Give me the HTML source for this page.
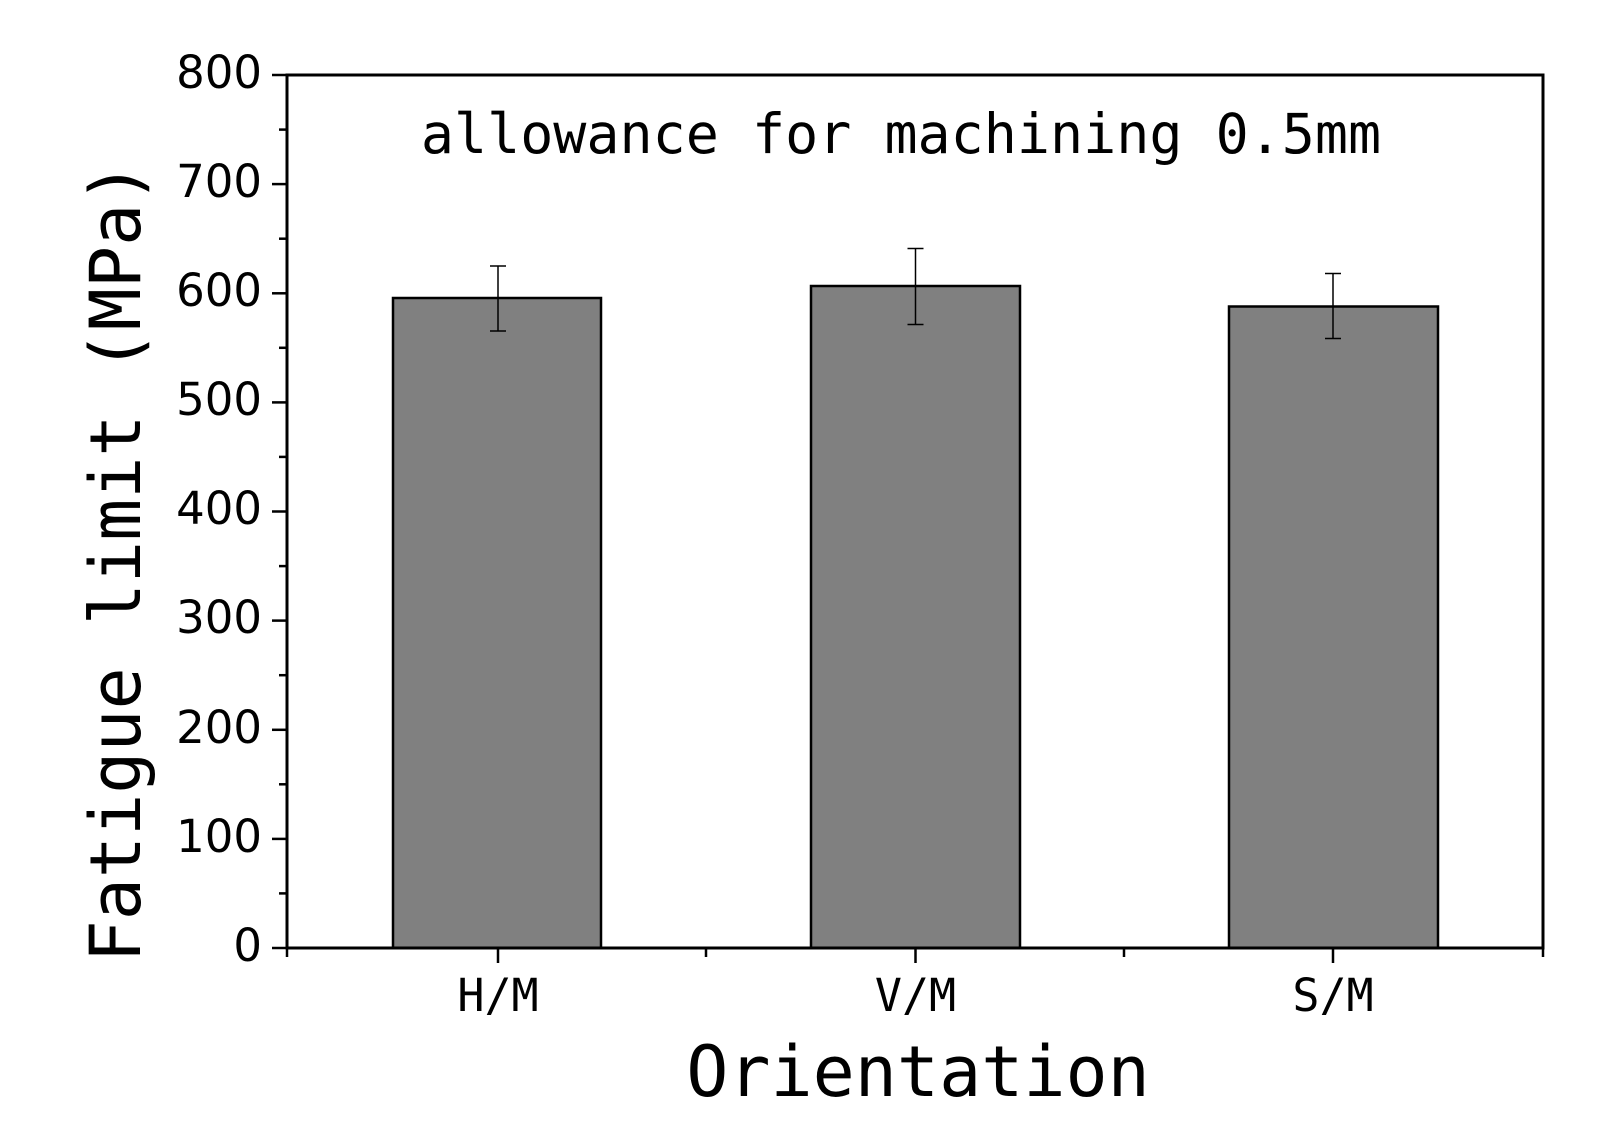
<!DOCTYPE html>
<html><head><meta charset="utf-8"><style>body{margin:0;background:#fff}</style></head><body>
<svg width="1605" height="1135" xmlns="http://www.w3.org/2000/svg">
<g fill="#808080" stroke="#000" stroke-width="2.5">
<rect x="393" y="298" width="208" height="650"/>
<rect x="811" y="286" width="209" height="662"/>
<rect x="1229" y="306.5" width="209" height="641.5"/>
</g>
<g stroke="#000" stroke-width="1.5">
<line x1="498" y1="266" x2="498" y2="331"/><line x1="490" y1="266" x2="506" y2="266"/><line x1="490" y1="331" x2="506" y2="331"/>
<line x1="915.5" y1="248.5" x2="915.5" y2="324.5"/><line x1="907.5" y1="248.5" x2="923.5" y2="248.5"/><line x1="907.5" y1="324.5" x2="923.5" y2="324.5"/>
<line x1="1333" y1="273.5" x2="1333" y2="338.5"/><line x1="1325" y1="273.5" x2="1341" y2="273.5"/><line x1="1325" y1="338.5" x2="1341" y2="338.5"/>
</g>
<rect x="287" y="75" width="1256" height="873" fill="none" stroke="#000" stroke-width="3"/>
<g stroke="#000" stroke-width="2.5">
<line x1="272" y1="75" x2="287" y2="75"/><line x1="279" y1="129.6" x2="287" y2="129.6"/>
<line x1="272" y1="184.1" x2="287" y2="184.1"/><line x1="279" y1="238.7" x2="287" y2="238.7"/>
<line x1="272" y1="293.3" x2="287" y2="293.3"/><line x1="279" y1="347.8" x2="287" y2="347.8"/>
<line x1="272" y1="402.4" x2="287" y2="402.4"/><line x1="279" y1="456.9" x2="287" y2="456.9"/>
<line x1="272" y1="511.5" x2="287" y2="511.5"/><line x1="279" y1="566.1" x2="287" y2="566.1"/>
<line x1="272" y1="620.6" x2="287" y2="620.6"/><line x1="279" y1="675.2" x2="287" y2="675.2"/>
<line x1="272" y1="729.8" x2="287" y2="729.8"/><line x1="279" y1="784.3" x2="287" y2="784.3"/>
<line x1="272" y1="838.9" x2="287" y2="838.9"/><line x1="279" y1="893.4" x2="287" y2="893.4"/>
<line x1="272" y1="948" x2="287" y2="948"/>
<line x1="287" y1="948" x2="287" y2="957"/><line x1="706" y1="948" x2="706" y2="957"/><line x1="1124" y1="948" x2="1124" y2="957"/><line x1="1543" y1="948" x2="1543" y2="957"/>
<line x1="498" y1="948" x2="498" y2="963"/><line x1="915.5" y1="948" x2="915.5" y2="963"/><line x1="1333" y1="948" x2="1333" y2="963"/>
</g>
<g font-family="DejaVu Sans, Liberation Sans, sans-serif" font-size="45" text-anchor="end">
<text x="262" y="88">800</text><text x="262" y="197">700</text><text x="262" y="306">600</text>
<text x="262" y="415">500</text><text x="262" y="524">400</text><text x="262" y="633">300</text>
<text x="262" y="743">200</text><text x="262" y="852">100</text><text x="262" y="961">0</text>
</g>
<g font-family="DejaVu Sans Mono, Liberation Mono, monospace" text-anchor="middle">
<text x="498" y="1011" font-size="45">H/M</text>
<text x="915.5" y="1011" font-size="45">V/M</text>
<text x="1333" y="1011" font-size="45">S/M</text>
<text x="901" y="153" font-size="55">allowance for machining 0.5mm</text>
<text x="918" y="1096" font-size="70">Orientation</text>
<text transform="translate(140,562) rotate(-90)" font-size="70">Fatigue limit (MPa)</text>
</g>
</svg>
</body></html>
